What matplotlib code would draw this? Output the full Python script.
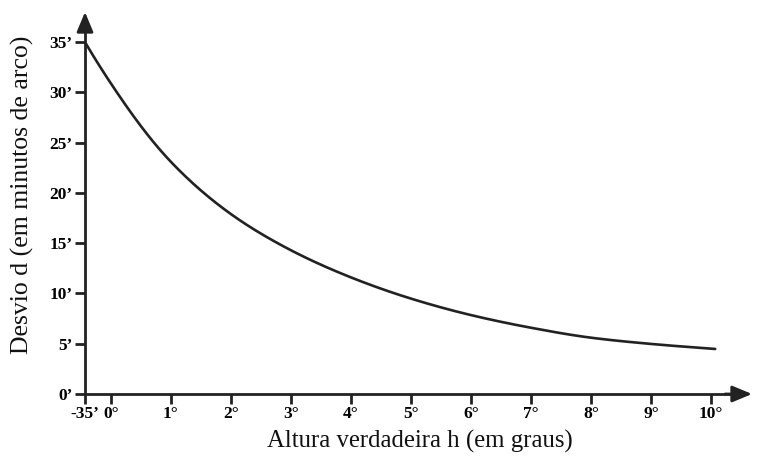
import matplotlib.pyplot as plt
import numpy as np

plt.rcParams['font.family'] = ['Liberation Serif', 'DejaVu Serif']

# true altitude h (degrees) and deviation d (arc minutes)
h_deg = [-35 / 60, 0, 1, 2, 3, 4, 5, 6, 7, 8, 9, 10.07]
d_min = [35.0, 30.9, 23.1, 17.9, 14.3, 11.6, 9.49, 7.85, 6.59, 5.6, 4.98,
         4.48]

x_ticks = [-35 / 60, 0, 1, 2, 3, 4, 5, 6, 7, 8, 9, 10]
x_labels = ["-35\u2019", "0\u00b0"] + [f"{i}\u00b0" for i in range(1, 11)]
y_ticks = [0, 5, 10, 15, 20, 25, 30, 35]
y_labels = [f"{v}\u2019" for v in y_ticks]

# the stretch below zero is drawn compressed on the original chart
NEG = 0.43 / (35 / 60)


def fwd(x):
    x = np.asarray(x, dtype=float)
    return np.where(x < 0, x * NEG, x)


def inv(x):
    x = np.asarray(x, dtype=float)
    return np.where(x < 0, x / NEG, x)


def smooth(x, y, n=500):
    # monotone cubic (pchip-like) through the read points
    x = np.asarray(x, dtype=float); y = np.asarray(y, dtype=float)
    xs = np.linspace(x[0], x[-1], n)
    h = np.diff(x)
    d = np.diff(y) / h
    m = np.zeros_like(y)
    w1 = 2 * h[1:] + h[:-1]
    w2 = h[1:] + 2 * h[:-1]
    m[1:-1] = np.where(d[:-1] * d[1:] > 0,
                       (w1 + w2) / (w1 / d[:-1] + w2 / d[1:]), 0)
    m[0], m[-1] = d[0], d[-1]
    i = np.clip(np.searchsorted(x, xs) - 1, 0, len(h) - 1)
    t = (xs - x[i]) / h[i]
    ys = ((2 * t**3 - 3 * t**2 + 1) * y[i] + (t**3 - 2 * t**2 + t) * h[i] * m[i]
          + (-2 * t**3 + 3 * t**2) * y[i + 1] + (t**3 - t**2) * h[i] * m[i + 1])
    return xs, ys


fig = plt.figure(figsize=(7.62, 4.57), dpi=100)
ax = fig.add_axes([85 / 762, 63 / 457, (738 - 85) / 762, (394 - 24) / 457])
ax.set_xscale('function', functions=(fwd, inv))

# spline on log(d) in drawn positions, then back to degrees / minutes
xs, ys = smooth(fwd(h_deg), np.log(d_min))
ax.plot(inv(xs), np.exp(ys), color='#222222', lw=1.9, solid_capstyle='round')

ax.set_xlim(-35 / 60, 10.45)
ax.set_ylim(0, 36.8)

for s in ['top', 'right']:
    ax.spines[s].set_visible(False)
for s in ['left', 'bottom']:
    ax.spines[s].set_linewidth(2)
    ax.spines[s].set_color('#222222')

ax.set_xticks(x_ticks)
ax.set_xticklabels(x_labels, fontsize=12.5, fontweight='bold')
ax.set_yticks(y_ticks)
ax.set_yticklabels(y_labels, fontsize=12.5, fontweight='bold')
ax.tick_params(axis='both', length=7, width=2, color='#222222', pad=2)
ax.xaxis.set_minor_locator(plt.NullLocator())

# arrow heads on the axes
ax.annotate('', xy=(1.0 + 14 / 653, 0), xytext=(0.98, 0),
            xycoords='axes fraction',
            arrowprops=dict(arrowstyle='-|>,head_length=1.2,head_width=0.5',
                            color='#222222', lw=2, shrinkA=0, shrinkB=0))
ax.annotate('', xy=(0, 1.0 + 12 / 370), xytext=(0, 0.98),
            xycoords='axes fraction',
            arrowprops=dict(arrowstyle='-|>,head_length=1.2,head_width=0.5',
                            color='#222222', lw=2, shrinkA=0, shrinkB=0))

fig.text(420 / 762, 1 - 441 / 457, 'Altura verdadeira h (em graus)',
         fontsize=17.8, ha='center', va='center', color='#111111')
fig.text(22 / 762, 1 - 195 / 457, 'Desvio d (em minutos de arco)',
         fontsize=18.5, ha='center', va='center', rotation=90, color='#111111')

fig.savefig('out.png', dpi=100)
